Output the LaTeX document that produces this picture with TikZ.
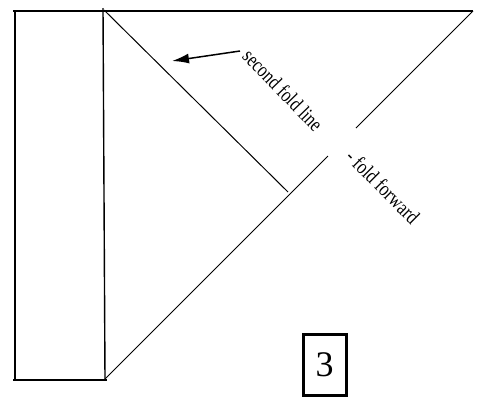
\documentclass[tikz,border=0pt]{standalone}
\usepackage{fontspec}
\setmainfont{Liberation Serif}
\usetikzlibrary{arrows.meta}
\begin{document}
\begin{tikzpicture}[x=1pt,y=-1pt,
  heavy/.style={line width=2pt},
  mid/.style={line width=1.4pt},
  thin/.style={line width=1pt},
  lbl/.style={inner sep=0pt,font=\fontsize{21}{21}\selectfont},
  numbox/.style={draw,line width=3pt,minimum width=43pt,minimum height=61pt,inner sep=0pt,font=\fontsize{36}{36}\selectfont}]
\useasboundingbox (0,0) rectangle (482,397);
% corners
\coordinate (tl) at (13,11);
\coordinate (tr) at (473,11);
\coordinate (lt) at (15,11);
\coordinate (lb) at (15,380);
\coordinate (bl) at (13,380);
\coordinate (br) at (107,380);
\coordinate (vt) at (103,8);
\coordinate (vb) at (105,379);
\coordinate (d1s) at (104,10);
\coordinate (d1e) at (288,192);
\coordinate (d2e) at (328,156);
\coordinate (d3s) at (356,128);
\coordinate (at) at (240,51);
\coordinate (ah) at (172,61);
% frame
\draw[heavy] (tl) -- (tr);
\draw[heavy] (lt) -- (lb);
\draw[heavy] (bl) -- (br);
\draw[mid] (vt) -- (vb);
% diagonals
\draw[thin] (d1s) -- (d1e);
\draw[thin] (vb) -- (d2e);
\draw[thin] (d3s) -- (tr);
% arrow
\draw[line width=1.5pt,-{Latex[length=17pt,width=10pt]}] (at) -- (ah);
% labels
\node[lbl,rotate=-46] (l1) at (283,90) {\scalebox{0.78}[1]{second fold line}};
\node[lbl,rotate=-45] (l2) at (383,187) {\scalebox{0.8}[1]{- fold forward}};
% number box
\node[numbox] (n3) at (324.5,364.5) {3};
\end{tikzpicture}
\end{document}
